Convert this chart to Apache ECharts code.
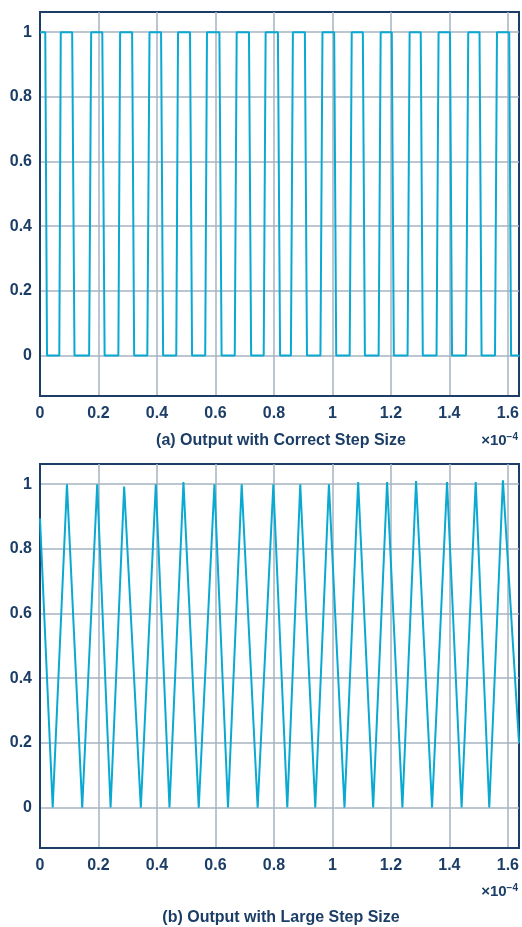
<!DOCTYPE html>
<html>
<head>
<meta charset="utf-8">
<script src="https://cdn.jsdelivr.net/npm/echarts@6/dist/echarts.min.js"></script>
<style>
html,body{margin:0;padding:0;background:#fff;}
#c{width:522px;height:927px;}
</style>
</head>
<body>
<div id="c"></div>
<script>
// x values are in units of 1e-4
const xTicks = [0, 0.2, 0.4, 0.6, 0.8, 1, 1.2, 1.4, 1.6];
const yTicks = [0, 0.2, 0.4, 0.6, 0.8, 1];

// (a) Output with Correct Step Size - waveform vertices
const timeA = [0, 0.018, 0.024, 0.066, 0.071, 0.110, 0.118, 0.168, 0.175, 0.213, 0.221, 0.268, 0.274, 0.315, 0.322, 0.367, 0.3745, 0.414, 0.421, 0.466, 0.472, 0.513, 0.520, 0.565, 0.571, 0.6135, 0.621, 0.666, 0.6726, 0.7146, 0.722, 0.765, 0.7716, 0.8136, 0.821, 0.858, 0.8648, 0.9058, 0.913, 0.959, 0.966, 1.006, 1.013, 1.059, 1.066, 1.104, 1.111, 1.158, 1.165, 1.203, 1.210, 1.257, 1.264, 1.302, 1.309, 1.356, 1.363, 1.402, 1.409, 1.457, 1.4645, 1.503, 1.510, 1.556, 1.5627, 1.6046, 1.611, 1.64];
const valueA = [1, 1, 0, 0, 1, 1, 0, 0, 1, 1, 0, 0, 1, 1, 0, 0, 1, 1, 0, 0, 1, 1, 0, 0, 1, 1, 0, 0, 1, 1, 0, 0, 1, 1, 0, 0, 1, 1, 0, 0, 1, 1, 0, 0, 1, 1, 0, 0, 1, 1, 0, 0, 1, 1, 0, 0, 1, 1, 0, 0, 1, 1, 0, 0, 1, 1, 0, 0];

// (b) Output with Large Step Size - waveform vertices
const timeB = [0, 0.0434, 0.0922, 0.1444, 0.1956, 0.2414, 0.2878, 0.3448, 0.396, 0.4428, 0.4906, 0.5428, 0.5965, 0.6429, 0.6897, 0.7443, 0.798, 0.8457, 0.890, 0.9413, 0.988, 1.0413, 1.088, 1.1393, 1.187, 1.2393, 1.286, 1.3407, 1.392, 1.4418, 1.490, 1.5364, 1.583, 1.638];
const valueB = [0.894, 0, 1.0, 0, 1.0, 0, 0.993, 0, 1.0, 0, 1.007, 0, 1.0, 0, 1.0, 0, 1.0, 0, 1.0, 0, 1.0, 0, 1.007, 0, 1.007, 0, 1.01, 0, 1.007, 0, 1.007, 0, 1.012, 0.2];

const navy = '#1b3d66';
const lineColor = '#0aa9d2';
const gridColor = '#a6b3c1';
const font = 'Liberation Sans, Arial, Helvetica, sans-serif';

function pairs(xs, ys) { return xs.map((x, i) => [x, ys[i]]); }

function xAxisCfg(gi) {
  return {
    type: 'value', gridIndex: gi, min: 0, max: 1.638,
    axisLine: { show: true, onZero: false, lineStyle: { color: navy, width: 2 } },
    axisTick: { show: false, customValues: xTicks },
    axisLabel: { customValues: xTicks, color: navy, fontFamily: font, fontWeight: 'bold', fontSize: 16, margin: 10,
      formatter: v => String(+v.toFixed(1)) },
    splitLine: { show: true, lineStyle: { color: gridColor, width: 1.5 } }
  };
}
function yAxisCfg(gi) {
  return {
    type: 'value', gridIndex: gi, min: -0.125, max: 1.0625,
    axisLine: { show: true, onZero: false, lineStyle: { color: navy, width: 2 } },
    axisTick: { show: false, customValues: yTicks },
    axisLabel: { customValues: yTicks, color: navy, fontFamily: font, fontWeight: 'bold', fontSize: 16, margin: 8,
      formatter: v => String(+v.toFixed(1)) },
    splitLine: { show: true, lineStyle: { color: gridColor, width: 1.5 } }
  };
}

const sup = { a: { fill: navy, fontFamily: font, fontWeight: 'bold', fontSize: 15 }, b: { fill: navy, fontFamily: font, fontWeight: 'bold', fontSize: 10, verticalAlign: 'top', padding: [0, 0, 8, 0] } };

const chart = echarts.init(document.getElementById('c'));
chart.setOption({
  animation: false,
  backgroundColor: '#fff',
  grid: [
    { left: 40, right: 3, top: 12, height: 384, show: true, borderColor: navy, borderWidth: 2, backgroundColor: 'transparent' },
    { left: 40, right: 3, top: 464, height: 384, show: true, borderColor: navy, borderWidth: 2, backgroundColor: 'transparent' }
  ],
  xAxis: [xAxisCfg(0), xAxisCfg(1)],
  yAxis: [yAxisCfg(0), yAxisCfg(1)],
  series: [
    { type: 'line', xAxisIndex: 0, yAxisIndex: 0, data: pairs(timeA, valueA), showSymbol: false, symbol: 'none',
      lineStyle: { color: lineColor, width: 2 }, clip: true },
    { type: 'line', xAxisIndex: 1, yAxisIndex: 1, data: pairs(timeB, valueB), showSymbol: false, symbol: 'none',
      lineStyle: { color: lineColor, width: 2 }, clip: true }
  ],
  graphic: [
    { type: 'text', x: 281, y: 441, style: { text: '(a) Output with Correct Step Size', fill: navy, font: 'bold 16px ' + font, textAlign: 'center', textVerticalAlign: 'middle' } },
    { type: 'text', x: 518, y: 441, style: { text: '{a|×10}{b|−4}', textAlign: 'right', textVerticalAlign: 'middle', rich: sup } },
    { type: 'text', x: 518, y: 892, style: { text: '{a|×10}{b|−4}', textAlign: 'right', textVerticalAlign: 'middle', rich: sup } },
    { type: 'text', x: 281, y: 918, style: { text: '(b) Output with Large Step Size', fill: navy, font: 'bold 16px ' + font, textAlign: 'center', textVerticalAlign: 'middle' } }
  ]
});
</script>
</body>
</html>
